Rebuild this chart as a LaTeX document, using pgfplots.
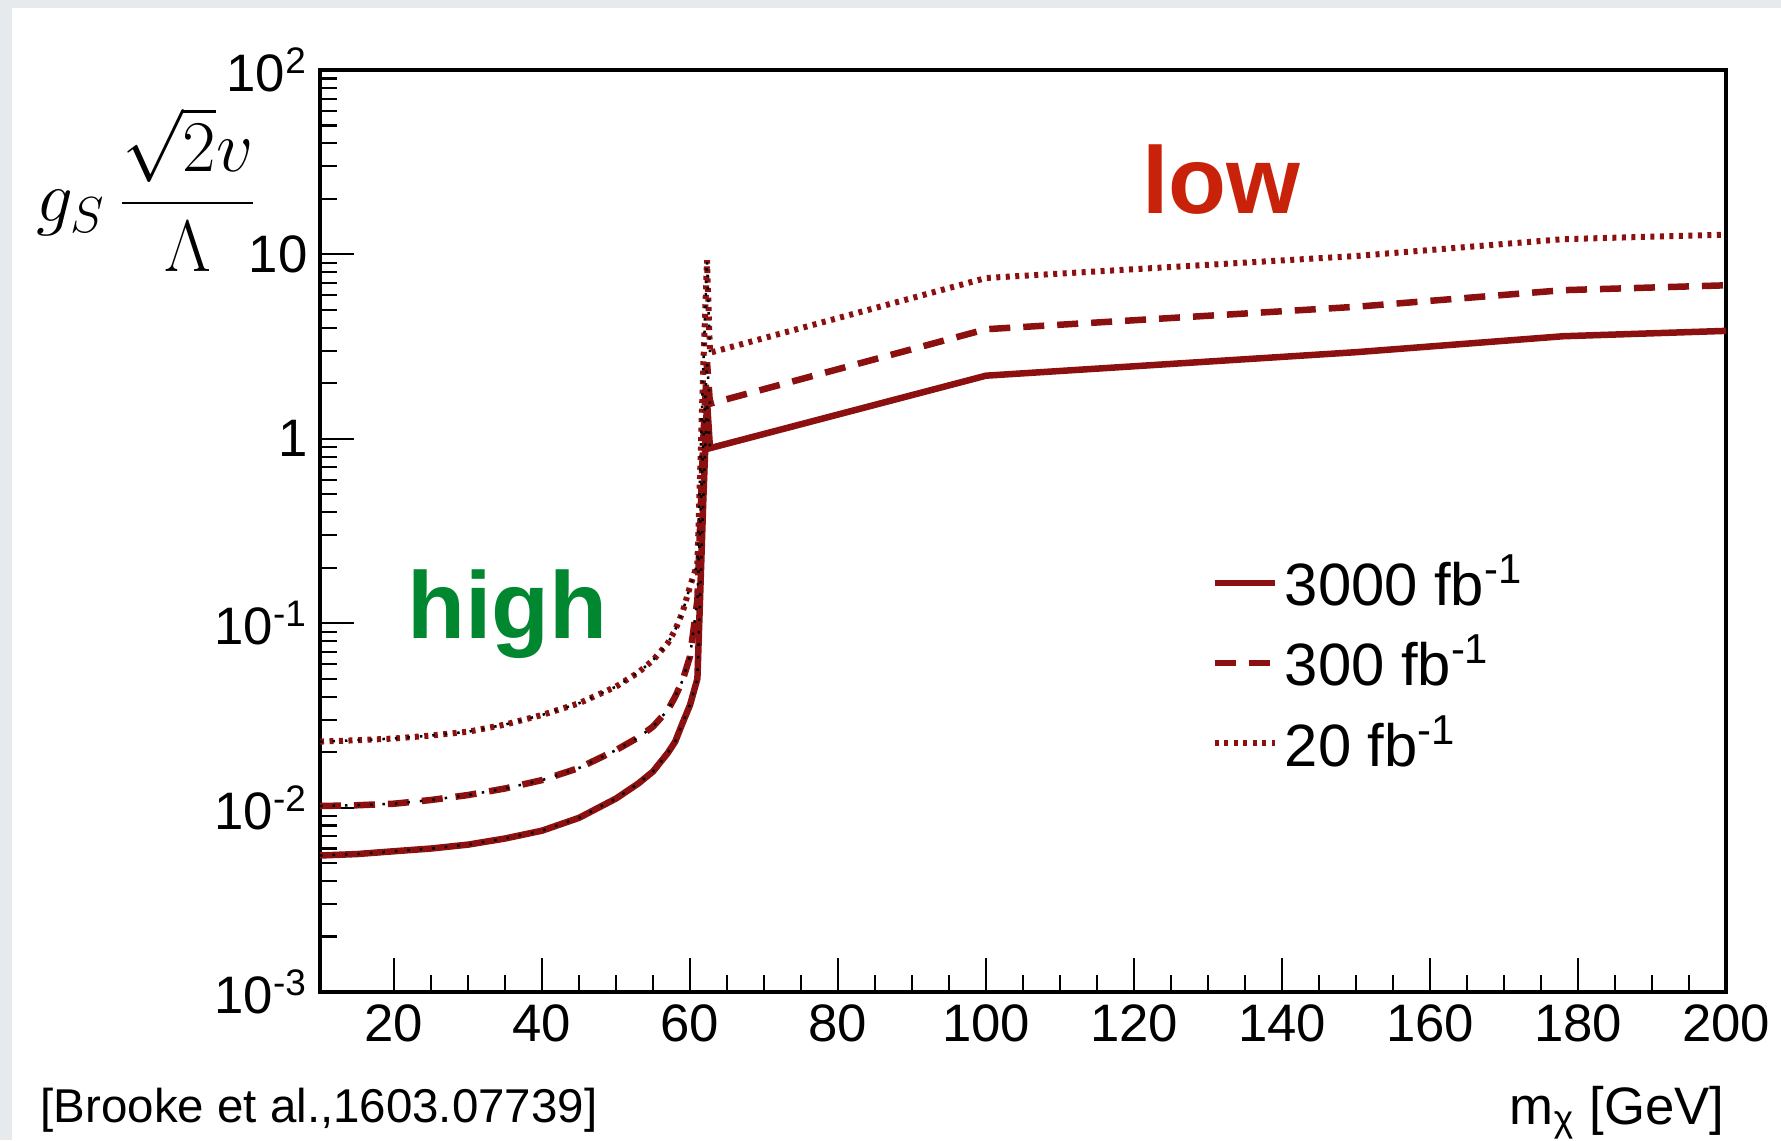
\documentclass[border=0pt]{standalone}
\usepackage{fontspec}
\setmainfont{Liberation Sans}
\usepackage{pgfplots}
\pgfplotsset{compat=1.18}
\definecolor{slide}{RGB}{231,234,237}
\definecolor{lim}{RGB}{140,16,16}
\definecolor{lowred}{RGB}{200,35,10}
\definecolor{highgreen}{RGB}{0,135,48}

\begin{document}
\begin{tikzpicture}
\fill[slide] (0,0) rectangle (17.81,-11.40);
\fill[white] (0.12,-0.08) rectangle (17.81,-11.40);

\begin{axis}[
at={(3.20cm,-9.92cm)},anchor=south west,
scale only axis,width=14.06cm,height=9.22cm,
xmin=10,xmax=200,ymode=log,ymin=1e-3,ymax=100,
xtick={20,40,...,200},minor x tick num=3,
ytick={0.001,0.01,0.1,1,10,100},
yticklabels={10\textsuperscript{-3},10\textsuperscript{-2},10\textsuperscript{-1},1,10,10\textsuperscript{2}},
minor ytick={0.002,0.003,0.004,0.005,0.006,0.007,0.008,0.009,
0.02,0.03,0.04,0.05,0.06,0.07,0.08,0.09,
0.2,0.3,0.4,0.5,0.6,0.7,0.8,0.9,
2,3,4,5,6,7,8,9,20,30,40,50,60,70,80,90},
tick align=inside,xtick pos=left,ytick pos=left,
major tick length=0.34cm,minor tick length=0.17cm,
axis line style={line width=0.9pt},
tick style={line width=0.6pt,black},
ticklabel style={font=\fontsize{15}{17}\selectfont},
/pgf/number format/assume math mode=true,
legend cell align=left,
legend style={at={(0.626,0.49)},anchor=north west,draw=none,fill=none,
  font=\fontsize{17}{19}\selectfont,row sep=0.1cm},
]
\addplot[lim,line width=0.065cm] coordinates {
(10,0.0055)(15,0.0056)(20,0.0058)(25,0.0060)(30,0.0063)(35,0.0068)(40,0.0075)
(45,0.0088)(50,0.0112)(53,0.0135)(55,0.0157)(57,0.0198)(58,0.0228)(59,0.0288)
(60,0.036)(61,0.050)(61.8,0.47)(62.3,1.6)(62.7,0.89)(100,2.2)(150,2.95)(178,3.6)(200,3.85)};
\addlegendentry{3000 fb\textsuperscript{-1}}
\addplot[lim,line width=0.065cm,dash pattern=on 0.21cm off 0.13cm] coordinates {
(10,0.0102)(15,0.0103)(20,0.0105)(25,0.0110)(30,0.0117)(35,0.0127)(40,0.0141)
(45,0.0164)(50,0.0205)(53,0.024)(55,0.0275)(57,0.0338)(58,0.040)(59,0.049)
(60,0.066)(61,0.134)(61.8,1.0)(62.3,2.6)(62.7,1.55)(100,3.93)(150,5.2)(178,6.4)(200,6.8)};
\addlegendentry{300 fb\textsuperscript{-1}}
\addplot[lim,line width=0.06cm,dash pattern=on 0.04cm off 0.055cm] coordinates {
(10,0.0228)(15,0.0232)(20,0.0237)(25,0.0246)(30,0.0258)(35,0.0282)(40,0.0318)
(45,0.0368)(50,0.0453)(53,0.054)(55,0.063)(57,0.078)(58,0.092)(59,0.115)
(60,0.158)(61,0.21)(61.8,2.5)(62.3,9.3)(62.7,2.93)(100,7.45)(150,9.8)(178,12.1)(200,12.8)};
\addlegendentry{20 fb\textsuperscript{-1}}
% thin black dotted curves underneath, visible below the threshold
\addplot[black,line width=0.025cm,dash pattern=on 0.025cm off 0.1cm,forget plot] coordinates {
(10,0.0055)(15,0.0056)(20,0.0058)(25,0.0060)(30,0.0063)(35,0.0068)(40,0.0075)
(45,0.0088)(50,0.0112)(53,0.0135)(55,0.0157)(57,0.0198)(58,0.0228)(59,0.0288)
(60,0.036)(61,0.050)(61.8,0.47)(62.3,1.6)(62.7,0.89)};
\addplot[black,line width=0.025cm,dash pattern=on 0.025cm off 0.1cm,forget plot] coordinates {
(10,0.0102)(15,0.0103)(20,0.0105)(25,0.0110)(30,0.0117)(35,0.0127)(40,0.0141)
(45,0.0164)(50,0.0205)(53,0.024)(55,0.0275)(57,0.0338)(58,0.040)(59,0.049)
(60,0.066)(61,0.134)(61.8,1.0)(62.3,2.6)(62.7,1.55)};
\addplot[black,line width=0.025cm,dash pattern=on 0.025cm off 0.1cm,forget plot] coordinates {
(10,0.0228)(15,0.0232)(20,0.0237)(25,0.0246)(30,0.0258)(35,0.0282)(40,0.0318)
(45,0.0368)(50,0.0453)(53,0.054)(55,0.063)(57,0.078)(58,0.092)(59,0.115)
(60,0.158)(61,0.21)(61.8,2.5)(62.3,9.3)(62.7,2.93)};
\end{axis}

\node[anchor=base west,font=\fontsize{27}{31}\selectfont\bfseries,text=lowred] at (11.30,-2.13) {low};
\node[anchor=base west,font=\fontsize{27}{31}\selectfont\bfseries,text=highgreen] at (3.95,-6.38) {high};
\node[font=\fontsize{20}{24}\selectfont] at (1.47,-1.89) {$\displaystyle g_S\,\frac{\sqrt{2}v}{\Lambda}$};
\node[anchor=base east,font=\fontsize{15}{18}\selectfont,inner sep=0pt] at (17.25,-11.24) {m\textsubscript{χ} [GeV]};
\node[anchor=base west,font=\fontsize{13.5}{16}\selectfont,inner sep=0pt] at (0.40,-11.22) {[Brooke et al.,1603.07739]};
\pgfresetboundingbox
\path (0,0) rectangle (17.81,-11.40);
\end{tikzpicture}
\end{document}
